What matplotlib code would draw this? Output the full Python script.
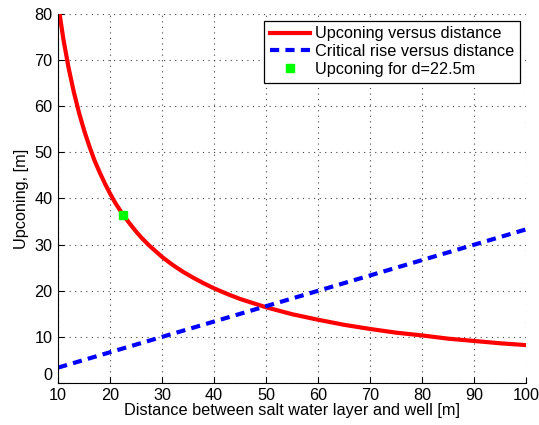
import matplotlib
matplotlib.use('Agg')
import matplotlib.pyplot as plt

# values
distance = [10, 11, 12, 13, 14, 15, 16, 17, 18, 19, 20, 21, 22.5, 24, 25, 26, 27.5,
            29, 30, 32, 34, 36, 38, 40, 42.5, 45, 47.5, 50, 55, 60, 65, 70, 75,
            80, 85, 90, 95, 100]
upconing = [82.0, 74.5, 68.3, 63.1, 58.6, 54.7, 51.3, 48.2, 45.6, 43.2, 41.0, 39.0,
            36.4, 34.2, 32.8, 31.5, 29.8, 28.3, 27.3, 25.6, 24.1, 22.8, 21.6, 20.5,
            19.3, 18.2, 17.3, 16.4, 14.9, 13.7, 12.6, 11.7, 10.9, 10.3, 9.6, 9.1,
            8.6, 8.2]
crit_distance = [10, 100]
crit_rise = [3.33, 33.3]
d_point = [22.5]
up_point = [36.5]

x_ticks = list(range(10, 101, 10))
y_ticks = list(range(0, 81, 10))

plt.rcParams['font.family'] = ['Liberation Sans', 'DejaVu Sans']
fs = 11.7

fig = plt.figure(figsize=(5.39, 4.25), dpi=100)
ax = fig.add_axes([0.108, 0.099, 0.868, 0.868])

ax.plot(distance, upconing, color='red', linewidth=3, solid_joinstyle='round',
        label='Upconing versus distance')
ax.plot(crit_distance, crit_rise, color='blue', linewidth=3, linestyle=(0, (2.2, 1.5)),
        label='Critical rise versus distance')
ax.plot(d_point, up_point, linestyle='none', marker='s', markersize=5.5, color='#00ff00',
        label='Upconing for d=22.5m', zorder=5)

ax.set_xlim(10, 100)
ax.set_ylim(0, 80)
ax.set_xticks(x_ticks)
ax.set_yticks(y_ticks)
ax.grid(True, linestyle=(0, (1, 4)), color='#444444', linewidth=0.8)
ax.spines['top'].set_visible(False)
ax.spines['right'].set_visible(False)
ax.tick_params(labelsize=fs, direction='in', length=4)
ax.tick_params(axis='x', pad=4)
ax.tick_params(axis='y', pad=4)
# keep the "0" on the y axis clear of the "10" below it
ax.get_yticklabels()[0].set_verticalalignment('bottom')

ax.set_xlabel('Distance between salt water layer and well [m]', fontsize=fs, labelpad=0)
ax.set_ylabel('Upconing, [m]', fontsize=fs, labelpad=4)

leg = ax.legend(loc='upper right', fontsize=fs, fancybox=False, framealpha=1,
                edgecolor='black', borderpad=0.35, labelspacing=0.18, handlelength=2.45,
                handletextpad=0.3, borderaxespad=0.4)
leg.get_frame().set_linewidth(0.9)

fig.savefig('out.png', dpi=100)
